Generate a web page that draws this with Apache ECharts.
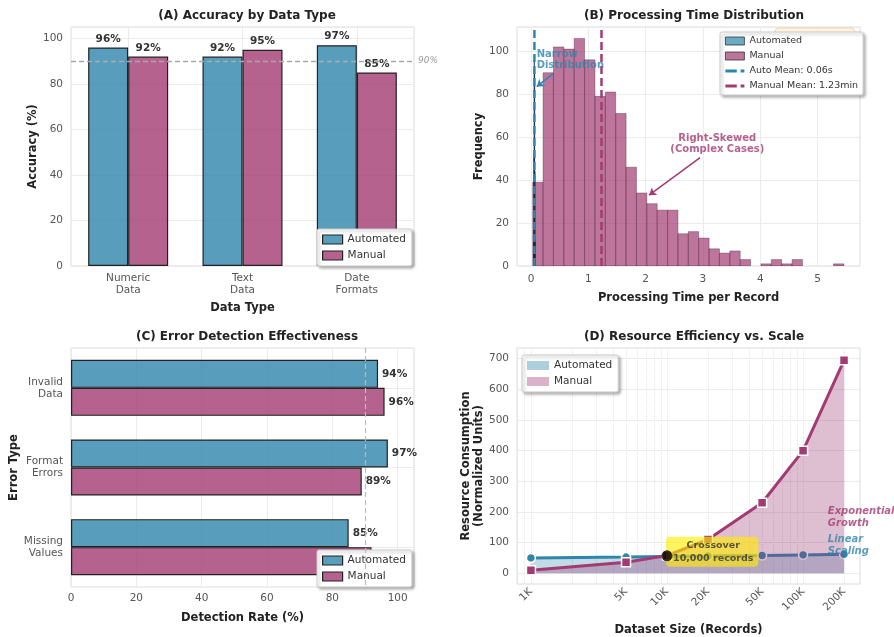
<!DOCTYPE html>
<html>
<head>
<meta charset="utf-8">
<script src="https://cdn.jsdelivr.net/npm/echarts@6/dist/echarts.min.js"></script>
<style>
html, body { margin: 0; background: #fff; }
#main { width: 894px; height: 637px; }
</style>
</head>
<body>
<div id="main"></div>
<script>
const AUTO = "#2E86AB";
const MANUAL = "#A23B72";
const FONT = "DejaVu Sans";

// (A) accuracy by data type
const dataTypes = ["Numeric\nData", "Text\nData", "Date\nFormats"];
const accAuto = [96, 92, 97];
const accManual = [92, 95, 85];
const accTarget = 90;

// (B) processing time histogram
const binStart = 0.03;
const binWidth = 0.181;
const manualCounts = [39, 90, 102, 101, 106, 96, 79, 81, 71, 46, 34, 29, 26, 26, 15, 16, 13, 8, 6, 7, 3, 0, 1, 3, 1, 3, 0, 0, 0, 1];
const autoBinStart = 0.045;
const autoBinWidth = 0.005;
const autoCounts = [14, 52, 96, 90, 44, 12];
const autoMean = 0.06;
const manualMean = 1.23;
const timeTicks = [0, 1, 2, 3, 4, 5];
const freqMax = 111.3;

// (C) error detection
const errorTypes = ["Invalid\nData", "Format\nErrors", "Missing\nValues"];
const detAuto = [94, 97, 85];
const detManual = [96, 89, 92];

// (D) resource vs scale
const sizes = [1000, 5000, 10000, 20000, 50000, 100000, 200000];
const sizeLabels = ["1K", "5K", "10K", "20K", "50K", "100K", "200K"];
const resAuto = [50, 53, 55, 56, 58, 60, 62];
const resManual = [10, 36, 58, 110, 230, 400, 695];
const crossover = [10000, 57];
const resTicks = [0, 100, 200, 300, 400, 500, 600, 700];
const logGrid = [800, 900, 1000, 2000, 3000, 4000, 5000, 6000, 7000, 8000, 9000, 10000, 20000, 30000, 40000, 50000, 60000, 70000, 80000, 90000, 100000, 200000];

const chart = echarts.init(document.getElementById("main"), null, { renderer: "canvas" });

const histRows = (start, width, counts) => counts.map((c, i) => [start + i * width, start + (i + 1) * width, c]);

const histItem = (fill, stroke, lw) => (params, api) => {
	if (!api.value(2)) return null;
	const a = api.coord([api.value(0), api.value(2)]);
	const b = api.coord([api.value(1), 0]);
	return {
		type  : "rect",
		shape : { x: a[0], y: a[1], width: b[0] - a[0], height: b[1] - a[1] },
		style : { fill: fill, stroke: stroke, lineWidth: lw },
	};
};

// dashed legend icon: long dash + short dash
const dashIcon = "path://M0 0h12v3H0zM16 0h4v3h-4z";

const tickLabel = { color: "#555", fontSize: 10.5, fontFamily: FONT };
const axisName = { color: "#222", fontSize: 11.5, fontWeight: "bold", fontFamily: FONT };
const gridLine = { show: true, lineStyle: { color: "#ebebeb", width: 1 } };
const barLabel = { show: true, color: "#333", fontSize: 10.5, fontWeight: "bold", fontFamily: FONT, formatter: p => p.value + "%" };
const legendBase = {
	orient          : "vertical",
	itemWidth       : 20,
	itemHeight      : 9,
	itemGap         : 5,
	padding         : [5, 6, 5, 5],
	backgroundColor : "#fff",
	borderColor     : "#ccc",
	borderWidth     : 1,
	borderRadius    : 2,
	shadowBlur      : 3,
	shadowOffsetX   : 2,
	shadowOffsetY   : 2,
	shadowColor     : "rgba(0,0,0,0.3)",
	textStyle       : { color: "#333", fontSize: 10.5, fontFamily: FONT },
	selectedMode    : false,
};
const titleStyle = { color: "#222", fontSize: 12, fontWeight: "bold", fontFamily: FONT };
const gridBase = { show: true, borderColor: "#dcdcdc", borderWidth: 1, backgroundColor: "#fff" };

const autoBar = { color: "rgba(46,134,171,0.8)", borderColor: "#222", borderWidth: 1.2 };
const manualBar = { color: "rgba(162,59,114,0.8)", borderColor: "#222", borderWidth: 1.2 };

chart.setOption({
	animation : false,
	textStyle : { fontFamily: FONT },
	title     : [
		{ text: "(A) Accuracy by Data Type", left: 242, top: 5, textAlign: "center", textStyle: titleStyle },
		{ text: "(B) Processing Time Distribution", left: 689, top: 5, textAlign: "center", textStyle: titleStyle },
		{ text: "(C) Error Detection Effectiveness", left: 242, top: 326, textAlign: "center", textStyle: titleStyle },
		{ text: "(D) Resource Efficiency vs. Scale", left: 689, top: 326, textAlign: "center", textStyle: titleStyle },
	],
	grid: [
		{ ...gridBase, left: 71, top: 27, width: 343, height: 239 },
		{ ...gridBase, left: 517, top: 27, width: 343, height: 239 },
		{ ...gridBase, left: 71, top: 348, width: 343, height: 239 },
		{ ...gridBase, left: 517, top: 348, width: 343, height: 239 },
	],
	xAxis: [
		{
			gridIndex     : 0,
			type          : "category",
			data          : dataTypes,
			axisLine      : { show: false },
			axisTick      : { show: false },
			axisLabel     : { ...tickLabel, lineHeight: 12, margin: 6 },
			splitLine     : { ...gridLine, alignWithLabel: true },
			name          : "Data Type",
			nameLocation  : "middle",
			nameGap       : 36,
			nameTextStyle : axisName,
		},
		{
			gridIndex     : 1,
			type          : "value",
			min           : -0.244,
			max           : 5.74,
			axisLine      : { show: false },
			axisTick      : { show: false, customValues: timeTicks },
			axisLabel     : { ...tickLabel, customValues: timeTicks, margin: 8 },
			splitLine     : gridLine,
			name          : "Processing Time per Record",
			nameLocation  : "middle",
			nameGap       : 26,
			nameTextStyle : axisName,
		},
		{
			gridIndex     : 2,
			type          : "value",
			min           : 0,
			max           : 105,
			interval      : 20,
			axisLine      : { show: false },
			axisTick      : { show: false },
			axisLabel     : { ...tickLabel, margin: 6, showMaxLabel: false },
			splitLine     : gridLine,
			name          : "Detection Rate (%)",
			nameLocation  : "middle",
			nameGap       : 25,
			nameTextStyle : axisName,
		},
		{
			gridIndex     : 3,
			type          : "log",
			logBase       : 10,
			min           : 790,
			max           : 262000,
			axisLine      : { show: false },
			axisTick      : { show: false, customValues: logGrid },
			axisLabel     : {
				...tickLabel,
				customValues : sizes,
				rotate       : 45,
				margin       : 6,
				formatter    : v => sizeLabels[sizes.findIndex(s => Math.abs(s - v) / s < 0.01)] || "",
			},
			splitLine     : { show: true, lineStyle: { color: "#e3e3e3", type: "dotted", width: 1 } },
			name          : "Dataset Size (Records)",
			nameLocation  : "middle",
			nameGap       : 40,
			nameTextStyle : axisName,
		},
	],
	yAxis: [
		{
			gridIndex     : 0,
			type          : "value",
			min           : 0,
			max           : 105,
			interval      : 20,
			axisLine      : { show: false },
			axisTick      : { show: false },
			axisLabel     : { ...tickLabel, showMaxLabel: false },
			splitLine     : gridLine,
			name          : "Accuracy (%)",
			nameLocation  : "middle",
			nameGap       : 29,
			nameTextStyle : axisName,
		},
		{
			gridIndex     : 1,
			type          : "value",
			min           : 0,
			max           : freqMax,
			interval      : 20,
			axisLine      : { show: false },
			axisTick      : { show: false },
			axisLabel     : { ...tickLabel, showMaxLabel: false },
			splitLine     : gridLine,
			name          : "Frequency",
			nameLocation  : "middle",
			nameGap       : 32,
			nameTextStyle : axisName,
		},
		{
			gridIndex     : 2,
			type          : "category",
			data          : errorTypes,
			inverse       : true,
			axisLine      : { show: false },
			axisTick      : { show: false },
			axisLabel     : { ...tickLabel, lineHeight: 12, margin: 8 },
			splitLine     : { ...gridLine, alignWithLabel: true },
			name          : "Error Type",
			nameLocation  : "middle",
			nameGap       : 44,
			nameTextStyle : axisName,
		},
		{
			gridIndex     : 3,
			type          : "value",
			min           : -35,
			max           : 735,
			axisLine      : { show: false },
			axisTick      : { show: false, customValues: resTicks },
			axisLabel     : { ...tickLabel, customValues: resTicks, margin: 8 },
			splitLine     : gridLine,
			name          : "Resource Consumption\n(Normalized Units)",
			nameLocation  : "middle",
			nameGap       : 30,
			nameTextStyle : { ...axisName, lineHeight: 13 },
		},
	],
	legend: [
		{
			...legendBase,
			left : 317,
			top  : 229,
			data : [
				{ name: "Automated", icon: "rect", itemStyle: autoBar },
				{ name: "Manual", icon: "rect", itemStyle: manualBar },
			],
		},
		{
			...legendBase,
			left       : 720,
			top        : 32,
			itemGap    : 5,
			itemWidth  : 19,
			itemHeight : 8,
			padding    : [4, 5, 4, 5],
			textStyle  : { ...legendBase.textStyle, fontSize: 9.5 },
			data       : [
				{ name: "Automated", icon: "rect", itemStyle: { color: "rgba(46,134,171,0.7)", borderColor: "#333", borderWidth: 0.8 } },
				{ name: "Manual", icon: "rect", itemStyle: { color: "rgba(162,59,114,0.7)", borderColor: "#333", borderWidth: 0.8 } },
				{ name: "Auto Mean: 0.06s", icon: dashIcon, itemStyle: { color: AUTO, borderWidth: 0 } },
				{ name: "Manual Mean: 1.23min", icon: dashIcon, itemStyle: { color: MANUAL, borderWidth: 0 } },
			],
		},
		{
			...legendBase,
			left : 317,
			top  : 550,
			data : [
				{ name: "Automated", icon: "rect", itemStyle: autoBar },
				{ name: "Manual", icon: "rect", itemStyle: manualBar },
			],
		},
		{
			...legendBase,
			left      : 522,
			top       : 355,
			itemWidth : 22,
			data      : [
				{ name: "Automated", icon: "rect", itemStyle: { color: "rgba(46,134,171,0.4)", borderWidth: 0 } },
				{ name: "Manual", icon: "rect", itemStyle: { color: "rgba(162,59,114,0.4)", borderWidth: 0 } },
			],
		},
	],
	graphic: [
		{
			type  : "rect",
			z     : 1,
			shape : { x: 775, y: 28, width: 80, height: 24, r: 4 },
			style : { fill: "rgba(255,235,205,0.6)", stroke: "rgba(240,200,150,0.7)", lineWidth: 1 },
		},
	],
	series: [
		// (A)
		{
			name       : "Automated",
			type       : "bar",
			xAxisIndex : 0,
			yAxisIndex : 0,
			data       : accAuto,
			barWidth   : 40,
			barGap     : "0%",
			itemStyle  : autoBar,
			label      : { ...barLabel, position: "top", distance: 3 },
			markLine   : {
				silent    : true,
				symbol    : "none",
				lineStyle : { color: "#aaa", type: [5, 3], width: 1.3 },
				label     : { position: "end", formatter: accTarget + "%", color: "#999", fontStyle: "italic", fontSize: 9, distance: 4 },
				data      : [{ yAxis: accTarget }],
			},
		},
		{
			name       : "Manual",
			type       : "bar",
			xAxisIndex : 0,
			yAxisIndex : 0,
			data       : accManual,
			barWidth   : 40,
			barGap     : "0%",
			itemStyle  : manualBar,
			label      : { ...barLabel, position: "top", distance: 3 },
		},
		// (B)
		{
			name       : "Manual",
			type       : "custom",
			xAxisIndex : 1,
			yAxisIndex : 1,
			clip       : true,
			data       : histRows(binStart, binWidth, manualCounts),
			encode     : { x: [0, 1], y: 2 },
			renderItem : histItem("rgba(162,59,114,0.7)", "rgba(60,30,45,0.6)", 0.6),
		},
		{
			name       : "Automated",
			type       : "custom",
			xAxisIndex : 1,
			yAxisIndex : 1,
			clip       : true,
			data       : histRows(autoBinStart, autoBinWidth, autoCounts),
			encode     : { x: [0, 1], y: 2 },
			renderItem : histItem("rgba(46,134,171,0.7)", "#222", 0.6),
		},
		{
			name       : "Auto Mean: 0.06s",
			type       : "line",
			xAxisIndex : 1,
			yAxisIndex : 1,
			symbol     : "none",
			z          : 4,
			data       : [[autoMean, 0], [autoMean, freqMax]],
			lineStyle  : { color: AUTO, width: 2.5, type: [8, 4] },
			itemStyle  : { color: AUTO },
		},
		{
			name       : "Manual Mean: 1.23min",
			type       : "line",
			xAxisIndex : 1,
			yAxisIndex : 1,
			symbol     : "none",
			z          : 4,
			data       : [[manualMean, 0], [manualMean, freqMax]],
			lineStyle  : { color: MANUAL, width: 2.5, type: [8, 4] },
			itemStyle  : { color: MANUAL },
		},
		{
			name       : "notesB",
			type       : "scatter",
			xAxisIndex : 1,
			yAxisIndex : 1,
			symbolSize : 0,
			z          : 5,
			data       : [
				{ value: [0.1, 96], label: { formatter: "Narrow\nDistribution", color: AUTO, position: "right", distance: 0, align: "left" } },
				{ value: [3.25, 57], label: { formatter: "Right-Skewed\n(Complex Cases)", color: MANUAL, position: "inside", align: "center" } },
			],
			label      : { show: true, fontSize: 10, fontWeight: "bold", lineHeight: 11, fontFamily: FONT },
			markLine   : {
				silent     : true,
				symbol     : ["none", "arrow"],
				symbolSize : 7,
				label      : { show: false },
				data       : [
					[{ coord: [0.38, 89.5], lineStyle: { color: AUTO, width: 1.5, type: "solid" } }, { coord: [0.1, 83.5] }],
					[{ coord: [2.95, 50.5], lineStyle: { color: MANUAL, width: 1.5, type: "solid" } }, { coord: [2.06, 33] }],
				],
			},
		},
		// (C)
		{
			name       : "Automated",
			type       : "bar",
			xAxisIndex : 2,
			yAxisIndex : 2,
			data       : detAuto,
			barWidth   : 28,
			barGap     : "0%",
			itemStyle  : autoBar,
			label      : { ...barLabel, position: "right", distance: 4 },
			markLine   : {
				silent    : true,
				symbol    : "none",
				lineStyle : { color: "#bbb", type: [5, 3], width: 1.2 },
				label     : { show: false },
				data      : [{ xAxis: 90 }],
			},
		},
		{
			name       : "Manual",
			type       : "bar",
			xAxisIndex : 2,
			yAxisIndex : 2,
			data       : detManual,
			barWidth   : 28,
			barGap     : "0%",
			itemStyle  : manualBar,
			label      : { ...barLabel, position: "right", distance: 4 },
		},
		// (D)
		{
			name       : "Automated",
			type       : "line",
			xAxisIndex : 3,
			yAxisIndex : 3,
			data       : sizes.map((s, i) => [s, resAuto[i]]),
			symbol     : "circle",
			symbolSize : 9,
			lineStyle  : { color: AUTO, width: 3 },
			itemStyle  : { color: AUTO, borderColor: "#fff", borderWidth: 1.5 },
			areaStyle  : { color: "rgba(46,134,171,0.42)" },
			z          : 3,
		},
		{
			name       : "Manual",
			type       : "line",
			xAxisIndex : 3,
			yAxisIndex : 3,
			data       : sizes.map((s, i) => [s, resManual[i]]),
			symbol     : "rect",
			symbolSize : 9,
			lineStyle  : { color: MANUAL, width: 3 },
			itemStyle  : { color: MANUAL, borderColor: "#fff", borderWidth: 1.5 },
			areaStyle  : { color: "rgba(150,50,110,0.45)" },
			z          : 4,
		},
		{
			name       : "notesD",
			type       : "scatter",
			xAxisIndex : 3,
			yAxisIndex : 3,
			symbolSize : 0,
			z          : 6,
			data       : [
				{ value: [21500, 70], label: { formatter: "Crossover\n10,000 records", color: "#333", fontSize: 9.5, position: "inside", backgroundColor: "rgba(255,236,0,0.78)", borderRadius: 4, padding: [3, 5, 2, 7], lineHeight: 12.5 } },
				{ value: [152000, 181], label: { formatter: "Exponential\nGrowth", color: MANUAL, position: "right", distance: 0, fontStyle: "italic" } },
				{ value: [152000, 90], label: { formatter: "Linear\nScaling", color: AUTO, position: "right", distance: 0, fontStyle: "italic" } },
			],
			label      : { show: true, fontSize: 10, fontWeight: "bold", lineHeight: 12, fontFamily: FONT },
		},
		{
			name       : "Crossover",
			type       : "scatter",
			xAxisIndex : 3,
			yAxisIndex : 3,
			symbolSize : 11,
			z          : 7,
			data       : [crossover],
			itemStyle  : { color: "#000" },
		},
	],
});
</script>
</body>
</html>
